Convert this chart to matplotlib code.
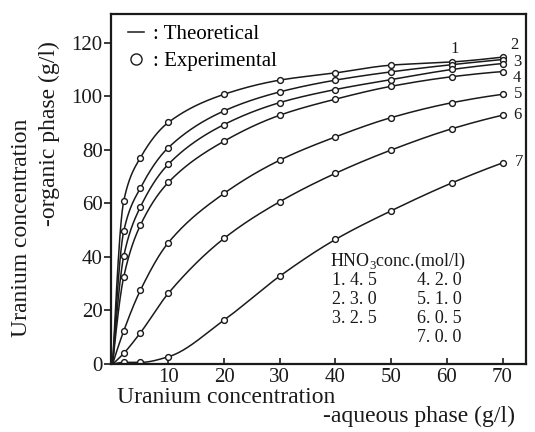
import numpy as np
import matplotlib
matplotlib.use("Agg")
import matplotlib.pyplot as plt
from matplotlib.lines import Line2D

plt.rcParams['font.family'] = ['Liberation Serif', 'DejaVu Serif']
plt.rcParams['mathtext.fontset'] = 'custom'
plt.rcParams['mathtext.rm'] = 'Liberation Serif'

# aqueous phase U concentration (g/l)
aq = [0, 2, 5, 10, 20, 30, 40, 50, 61, 70]

# organic phase U concentration (g/l) per HNO3 concentration
org_1 = [0, 61.0, 77.1, 90.2, 100.7, 106.0, 108.7, 111.6, 112.8, 114.6]
org_2 = [0, 49.7, 65.8, 80.8, 94.5, 101.6, 106.0, 109.1, 111.8, 113.7]
org_3 = [0, 40.3, 58.7, 74.6, 89.4, 97.6, 102.5, 106.2, 110.0, 112.2]
org_4 = [0, 32.6, 51.9, 67.8, 83.2, 92.9, 98.9, 103.7, 107.3, 109.2]
org_5 = [0, 12.4, 27.6, 45.3, 63.7, 76.1, 84.8, 92.0, 97.6, 100.7]
org_6 = [0, 4.0, 11.7, 26.4, 46.9, 60.6, 71.2, 79.9, 87.9, 92.9]
org_7 = [0, 0.6, 0.6, 2.7, 16.4, 32.8, 46.5, 57.2, 67.7, 75.1]

curves = [org_1, org_2, org_3, org_4, org_5, org_6, org_7]
curve_ids = ['1', '2', '3', '4', '5', '6', '7']
hno3 = ['4. 5', '3. 0', '2. 5', '2. 0', '1. 0', '0. 5', '0. 0']


def pchip(x, y, xs):
    # monotone cubic, only used to draw a smooth line through the points
    x = np.asarray(x, float)
    y = np.asarray(y, float)
    h = np.diff(x)
    d = np.diff(y) / h
    m = np.zeros_like(y)
    for k in range(1, len(x) - 1):
        if d[k - 1] * d[k] > 0:
            w1 = 2 * h[k] + h[k - 1]
            w2 = h[k] + 2 * h[k - 1]
            m[k] = (w1 + w2) / (w1 / d[k - 1] + w2 / d[k])
    m[0] = ((2 * h[0] + h[1]) * d[0] - h[0] * d[1]) / (h[0] + h[1])
    if m[0] * d[0] <= 0:
        m[0] = 0
    m[-1] = ((2 * h[-1] + h[-2]) * d[-1] - h[-1] * d[-2]) / (h[-1] + h[-2])
    if m[-1] * d[-1] <= 0:
        m[-1] = 0
    i = np.clip(np.searchsorted(x, xs) - 1, 0, len(x) - 2)
    t = (xs - x[i]) / h[i]
    h00 = 2 * t**3 - 3 * t**2 + 1
    h10 = t**3 - 2 * t**2 + t
    h01 = -2 * t**3 + 3 * t**2
    h11 = t**3 - t**2
    return h00 * y[i] + h10 * h[i] * m[i] + h01 * y[i + 1] + h11 * h[i] * m[i + 1]


fig = plt.figure(figsize=(5.35, 4.32), dpi=100)
ax = fig.add_axes([0.2075, 0.1574, 0.7755, 0.8102])

xs = np.linspace(0, 70, 700)
col = '#1a1a1a'
for ys in curves:
    ax.plot(xs, pchip(aq, ys, xs), color=col, lw=1.1)
    ax.plot(aq[1:], ys[1:], 'o', ms=4.2, mfc='white', mec=col, mew=1.0)

# curve numbers
lab_pos = [(61.5, 117.8), (71.4, 119.3), (71.9, 112.6), (71.8, 106.8),
           (72.0, 100.8), (72.0, 92.8), (72.3, 75.4)]
for cid, (lx, ly) in zip(curve_ids, lab_pos):
    ax.text(lx, ly, cid, fontsize=12, ha='center' if cid == '1' else 'left',
            va='center', color=col)

# HNO3 table
ax.text(39.0, 38.4, r'HNO$_3$conc.(mol/l)', fontsize=13, color=col, va='center')
for k, (cid, c) in enumerate(zip(curve_ids, hno3)):
    if k < 3:
        tx, ty = 39.3, 31.0 - 7.0 * k
    else:
        tx, ty = 54.7, 31.0 - 7.0 * (k - 3)
    ax.text(tx, ty, cid + '. ' + c, fontsize=13, color=col, va='center')

handles = [Line2D([], [], color=col, lw=1.1),
           Line2D([], [], ls='none', marker='o', ms=8, mfc='white', mec=col, mew=1.0)]
ax.legend(handles, [': Theoretical', ': Experimental'], loc='upper left',
          bbox_to_anchor=(0.04, 0.97), frameon=False, fontsize=15,
          handlelength=0.8, handletextpad=0.4, labelspacing=0.35,
          borderpad=0, borderaxespad=0)

ax.set_xlim(-0.29, 74.2)
ax.set_ylim(0, 130.7)
ax.set_xticks([10, 20, 30, 40, 50, 60, 70])
ax.set_yticks([0, 20, 40, 60, 80, 100, 120])
ax.tick_params(axis='x', direction='in', length=4, width=1.2, labelsize=15, pad=3, colors=col)
ax.tick_params(axis='y', direction='out', length=5, width=1.2, labelsize=15, pad=1, colors=col)
for s in ax.spines.values():
    s.set_linewidth(1.6)
    s.set_color(col)

fig.text(0.041, 0.472, 'Uranium concentration', rotation=90, fontsize=17,
         ha='center', va='center', color=col)
fig.text(0.093, 0.690, '-organic phase (g/l)', rotation=90, fontsize=17,
         ha='center', va='center', color=col)
fig.text(0.219, 0.079, 'Uranium concentration', fontsize=17, ha='left',
         va='center', color=col)
fig.text(0.603, 0.035, '-aqueous phase (g/l)', fontsize=17, ha='left',
         va='center', color=col)

fig.savefig('out.png', dpi=100)
